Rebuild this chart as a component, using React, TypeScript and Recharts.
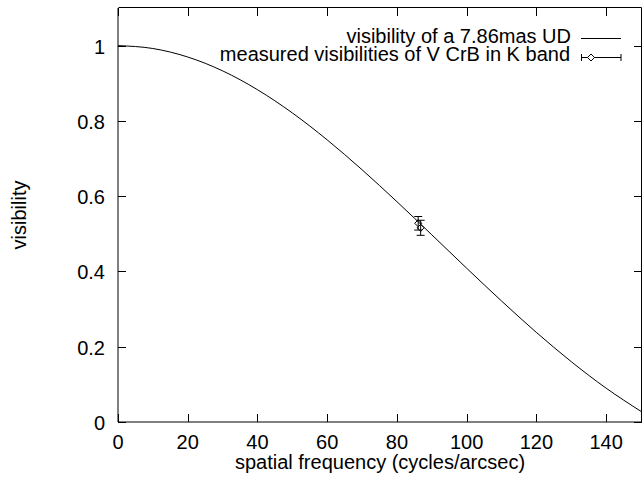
import React from 'react';
import { ComposedChart, Line, Scatter, ErrorBar, XAxis, YAxis } from 'recharts';

// spatial frequency (cycles/arcsec) sampled along the UD curve
const freq = [0, 10, 20, 30, 40, 50, 60, 70, 80, 90, 100, 110, 120, 130, 140, 150];
// visibility of a 7.86 mas uniform disk
const udVis = [1.0, 0.9924, 0.9698, 0.933, 0.8829, 0.8212, 0.7496, 0.6702, 0.5854, 0.4974, 0.4086, 0.3215, 0.238, 0.1603, 0.0899, 0.0282];

// measured visibilities of V CrB in K band
const measFreq = [86.1, 86.8];
const measVis = [0.528, 0.516];
const measErr = [0.018, 0.02];

const xTicks = [0, 20, 40, 60, 80, 100, 120, 140];
const yTicks = [0, 0.2, 0.4, 0.6, 0.8, 1];
const xMax = 150;
const yMax = 1.1;

const legendCurve = 'visibility of a 7.86mas UD';
const legendMeas = 'measured visibilities of V CrB in K band';
const xTitle = 'spatial frequency (cycles/arcsec)';
const yTitle = 'visibility';

const curve = freq.map((f, i) => ({ f, v: udVis[i] }));
const measured = measFreq.map((f, i) => ({ f, v: measVis[i], err: measErr[i] }));

const W = 642;
const H = 478;
const MARGIN = { top: 8, right: 1, bottom: 0, left: 0 };
const Y_AXIS_W = 118;
const X_AXIS_H = 56;
const PL = MARGIN.left + Y_AXIS_W;
const PR = W - MARGIN.right;
const PT = MARGIN.top;
const PB = H - MARGIN.bottom - X_AXIS_H;
const sx = (v: number) => PL + (v / xMax) * (PR - PL);
const sy = (v: number) => PB - (v / yMax) * (PB - PT);
const snap = (v: number) => Math.round(v) + 0.5;

const FONT = '"Liberation Sans", Arial, Helvetica, sans-serif';
const FS = 20;
const TL = 8;

const BottomTick = (p: any) => (
  <text x={p.x} y={p.y + 27} textAnchor="middle" fontSize={FS} fontFamily={FONT} fill="#000">
    {String(p.payload.value)}
  </text>
);

const LeftTick = (p: any) => (
  <text x={p.x - 13} y={p.y + 8} textAnchor="end" fontSize={FS} fontFamily={FONT} fill="#000">
    {String(p.payload.value)}
  </text>
);

const Diamond = (p: any) => {
  const cx = p.cx ?? p.x + (p.width || 0) / 2;
  const cy = p.cy ?? p.y + (p.height || 0) / 2;
  const r = 3.5;
  return (
    <polygon
      points={`${cx},${cy - r} ${cx + r},${cy} ${cx},${cy + r} ${cx - r},${cy}`}
      fill="none"
      stroke="#000"
      strokeWidth={1}
    />
  );
};

// frame and inward ticks on all four sides, as one path
const framePath = [
  `M${PL + 0.5},${PT - 0.5} H${PR + 0.5} V${PB + 0.5}`,
  ...xTicks.map((t) => `M${snap(sx(t))},${PB} V${PB - TL} M${snap(sx(t))},${PT} V${PT + TL}`),
  ...yTicks.map((t) => `M${PL},${snap(sy(t))} H${PL + TL} M${PR + 1},${snap(sy(t))} H${PR + 1 - TL}`),
].join(' ');

const Overlay = () => (
  <svg
    width={W}
    height={H}
    style={{ position: 'absolute', left: 0, top: 0, pointerEvents: 'none' }}
  >
    <path d={framePath} fill="none" stroke="#000" strokeWidth={1} />
    <text x={571} y={43} textAnchor="end" fontFamily={FONT} fontSize={FS} fill="#000">{legendCurve}</text>
    <path d="M581,38.5 H621" stroke="#000" strokeWidth={1} />
    <text x={570} y={61} textAnchor="end" fontFamily={FONT} fontSize={FS} fill="#000">{legendMeas}</text>
    <path d="M581.5,57.5 H621 M581.5,54 V61 M621,54 V61" stroke="#000" strokeWidth={1} fill="none" />
    <polygon points="591,54 594.5,57.5 591,61 587.5,57.5" fill="#fff" stroke="#000" strokeWidth={1} />
    <text x={380} y={469} textAnchor="middle" fontFamily={FONT} fontSize={FS} fill="#000">{xTitle}</text>
    <text x={26} y={215} textAnchor="middle" transform="rotate(-90, 26, 215)" fontFamily={FONT} fontSize={FS} fill="#000">{yTitle}</text>
  </svg>
);

export default function App() {
  return (
    <div style={{ position: 'absolute', left: 0, top: 0, width: W, height: H, background: '#fff' }}>
      <ComposedChart width={W} height={H} data={curve} margin={MARGIN}>
        <XAxis
          dataKey="f"
          type="number"
          domain={[0, xMax]}
          ticks={xTicks}
          interval={0}
          tickSize={0}
          tickMargin={0}
          tickLine={false}
          axisLine={{ stroke: '#000', strokeWidth: 1 }}
          height={X_AXIS_H}
          tick={BottomTick}
          allowDataOverflow
        />
        <YAxis
          dataKey="v"
          type="number"
          domain={[0, yMax]}
          ticks={yTicks}
          interval={0}
          tickSize={0}
          tickMargin={0}
          tickLine={false}
          axisLine={{ stroke: '#000', strokeWidth: 1 }}
          width={Y_AXIS_W}
          tick={LeftTick}
          allowDataOverflow
        />
        <Line
          dataKey="v"
          type="monotone"
          stroke="#000"
          strokeWidth={1}
          dot={false}
          activeDot={false}
          isAnimationActive={false}
        />
        <Scatter data={measured} dataKey="v" shape={Diamond} isAnimationActive={false}>
          <ErrorBar dataKey="err" direction="y" width={4} stroke="#000" strokeWidth={1} />
        </Scatter>
      </ComposedChart>
      <Overlay />
    </div>
  );
}
